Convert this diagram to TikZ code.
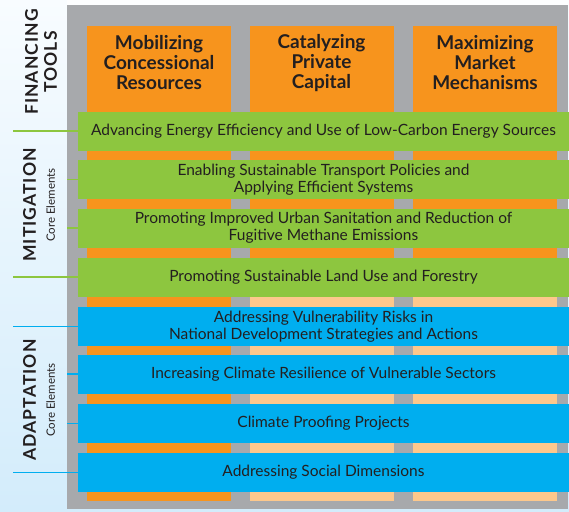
\documentclass[tikz,border=0pt]{standalone}
\usepackage{fontspec}
\setmainfont{Lato}
\usetikzlibrary{calc}
\definecolor{panelgray}{HTML}{A7A9AC}
\definecolor{toolorange}{HTML}{F7941D}
\definecolor{toollight}{HTML}{FDC88C}
\definecolor{mitgreen}{HTML}{8DC63F}
\definecolor{adablue}{HTML}{00AEEF}
\definecolor{inkgray}{HTML}{231F20}
\definecolor{skytop}{HTML}{F8FCFF}
\definecolor{skybottom}{HTML}{D3ECFB}

\begin{document}
\begin{tikzpicture}[x=1pt,y=-1pt]
\tikzstyle{col}=[fill=toolorange,minimum width=144pt,inner sep=0pt,anchor=north]
\tikzstyle{collight}=[fill=toollight,minimum width=144pt,inner sep=0pt,anchor=north]
\tikzstyle{head}=[text=inkgray,align=center,font=\fontsize{19}{20}\selectfont\bfseries]
\tikzstyle{mitig}=[fill=mitgreen,minimum width=491pt,minimum height=39pt,inner sep=0pt,align=center,text=inkgray,font=\fontsize{15.5}{17}\selectfont]
\tikzstyle{adapt}=[fill=adablue,minimum width=491pt,minimum height=39pt,inner sep=0pt,align=center,text=inkgray,font=\fontsize{15.5}{17}\selectfont]
\tikzstyle{side}=[rotate=90,align=center,text=inkgray,font=\fontsize{17.5}{19}\selectfont\bfseries\addfontfeature{LetterSpace=6}]
\tikzstyle{mitline}=[draw=mitgreen,line width=1.3pt]
\tikzstyle{adaline}=[draw=adablue,line width=1.3pt]
\useasboundingbox (0,0) rectangle (569,511);
% background and panel
\shade[top color=skytop,bottom color=skybottom] (0,0) rectangle (569,511);
\fill[white!70!skytop] (67,0) rectangle (569,5);
\fill[panelgray] (67,5) rectangle (568,509);
% financing tools
\node[col,minimum height=475pt] (col1) at (159,26) {};
\node[col,minimum height=271pt] (col2) at (321.5,26) {};
\node[collight,minimum height=204pt] (col2l) at (321.5,297) {};
\node[col,minimum height=271pt] (col3) at (485,26) {};
\node[collight,minimum height=204pt] (col3l) at (485,297) {};
\node[head] (mobil) at (159,63) {Mobilizing\\Concessional\\Resources};
\node[head] (catal) at (321.5,63) {Catalyzing\\Private\\Capital};
\node[head] (maxim) at (485,63) {Maximizing\\Market\\Mechanisms};
% mitigation
\node[mitig] (g1) at (323.5,131) {Advancing Energy Efficiency and Use of Low-Carbon Energy Sources};
\node[mitig] (g2) at (323.5,179.5) {Enabling Sustainable Transport Policies and\\Applying Efficient Systems};
\node[mitig] (g3) at (323.5,228) {Promoting Improved Urban Sanitation and Reduction of\\Fugitive Methane Emissions};
\node[mitig] (g4) at (323.5,277) {Promoting Sustainable Land Use and Forestry};
% adaptation
\node[adapt] (b1) at (323.5,326.5) {Addressing Vulnerability Risks in\\National Development Strategies and Actions};
\node[adapt] (b2) at (323.5,374) {Increasing Climate Resilience of Vulnerable Sectors};
\node[adapt] (b3) at (323.5,423.5) {Climate Proofing Projects};
\node[adapt] (b4) at (323.5,472.5) {Addressing Social Dimensions};
% side labels
\node[side] (fin) at (41,62) {FINANCING\\TOOLS};
\node[side] (mit) at (39,205) {MITIGATION\\{\fontsize{11.5}{12.5}\selectfont\mdseries\addfontfeature{LetterSpace=0} Core Elements}};
\node[side] (ada) at (39,400) {ADAPTATION\\{\fontsize{11.5}{12.5}\selectfont\mdseries\addfontfeature{LetterSpace=0} Core Elements}};
\coordinate (m1) at (13,131);
\coordinate (m2) at (67,179.5);
\coordinate (m3) at (67,228);
\coordinate (m4) at (13,277);
\coordinate (a1) at (13,326.5);
\coordinate (a2) at (67,374);
\coordinate (a3) at (67,423.5);
\coordinate (a4) at (13,472.5);
\draw[mitline] (m1) -- (g1.west);
\draw[mitline] (m2) -- (g2.west);
\draw[mitline] (m3) -- (g3.west);
\draw[mitline] (m4) -- (g4.west);
\draw[adaline] (a1) -- (b1.west);
\draw[adaline] (a2) -- (b2.west);
\draw[adaline] (a3) -- (b3.west);
\draw[adaline] (a4) -- (b4.west);
\end{tikzpicture}
\end{document}
